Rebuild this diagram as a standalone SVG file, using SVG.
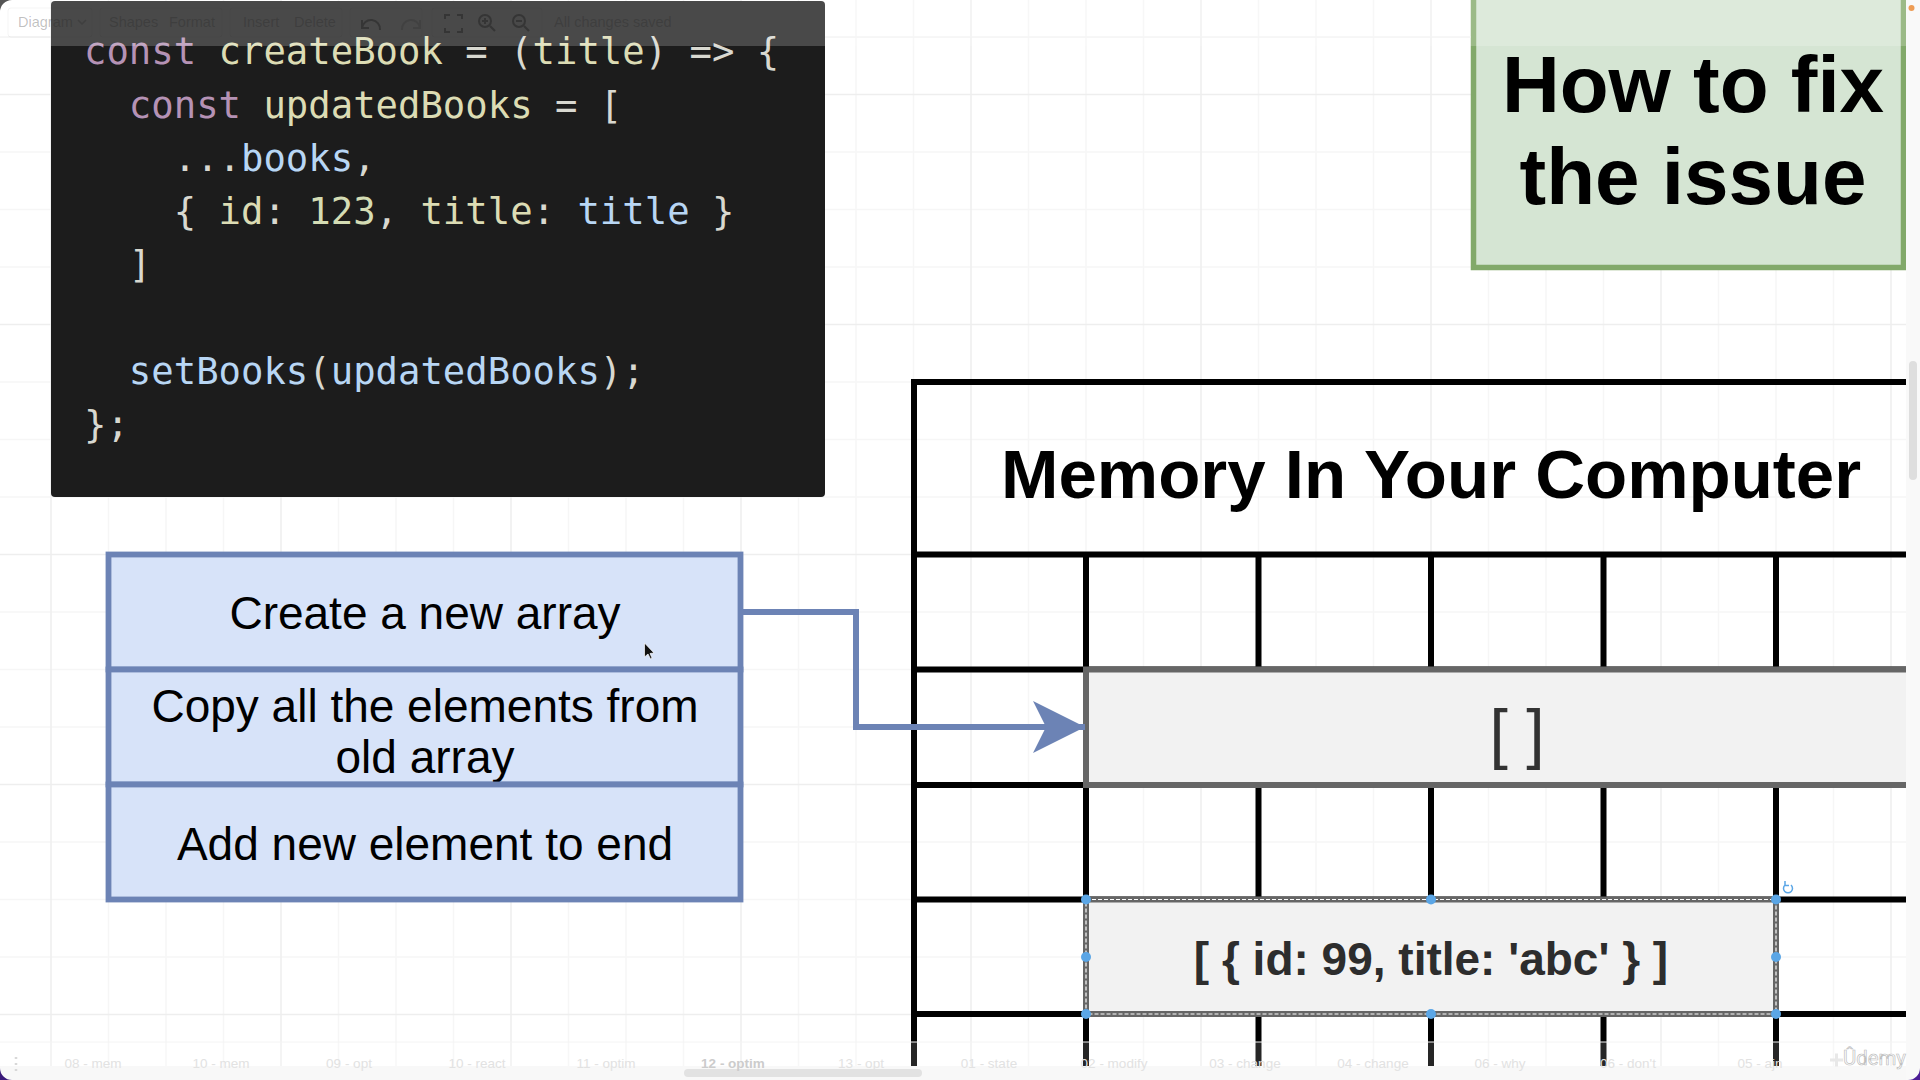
<svg xmlns="http://www.w3.org/2000/svg" width="1920" height="1080" viewBox="0 0 1920 1080">
<style>
.minor{stroke:#f6f6f6;stroke-width:1.5;fill:none}
.major{stroke:#eeeeee;stroke-width:1.5;fill:none}
.code{font-family:"DejaVu Sans Mono","Liberation Mono",monospace;font-size:37.25px;fill:#d8d8d0;white-space:pre}
.k{fill:#b592b5}.f{fill:#dcdcb4}.v{fill:#b8d6f4}.n{fill:#d4dcb4}
.sans{font-family:"Liberation Sans",Arial,sans-serif;text-anchor:middle;fill:#000}
.step{font-size:46px}
.bold{font-weight:700}
.grid{stroke:#000;stroke-width:6;fill:none}
.cell{fill:#f2f2f2;stroke:#666;stroke-width:6}
.stepbox{fill:#d7e3f9;stroke:#6c83b5;stroke-width:5.8}
.handle{fill:#5ba6e6}
.tab{font-family:"Liberation Sans",Arial,sans-serif;font-size:13.5px;fill:#e2e2e2;text-anchor:middle}
.tool{font-family:"Liberation Sans",Arial,sans-serif;font-size:14.5px;fill:#222;fill-opacity:.28}
</style>
<defs>
<marker id="head" markerUnits="userSpaceOnUse" markerWidth="56" markerHeight="56" refX="52" refY="26" orient="auto"><path d="M0 0L52 26L0 52L13 26Z" fill="#6c83b5"/></marker>
</defs>
<rect width="1920" height="1080" fill="#fff"/>
<g id="background-grid">
<path class="minor" d="M108.500 0V1066M166 0V1066M223.500 0V1066M338.500 0V1066M396 0V1066M453.500 0V1066M568.500 0V1066M626 0V1066M683.500 0V1066M798.500 0V1066M856 0V1066M913.500 0V1066M1028.500 0V1066M1086 0V1066M1143.500 0V1066M1258.500 0V1066M1316 0V1066M1373.500 0V1066M1488.500 0V1066M1546 0V1066M1603.500 0V1066M1718.500 0V1066M1776 0V1066M1833.500 0V1066"/>
<path class="minor" d="M0 37H1906M0 152H1906M0 209.500H1906M0 267H1906M0 382H1906M0 439.500H1906M0 497H1906M0 612H1906M0 669.500H1906M0 727H1906M0 842H1906M0 899.500H1906M0 957H1906"/>
<path class="major" d="M51 0V1066M281 0V1066M511 0V1066M741 0V1066M971 0V1066M1201 0V1066M1431 0V1066M1661 0V1066M1891 0V1066M0 94.500H1906M0 324.500H1906M0 554.500H1906M0 784.500H1906M0 1014.500H1906"/>
</g>
<g id="code-panel">
<rect x="51" y="1" width="774" height="496" rx="4" fill="#1c1c1c"/>
<text class="code" x="84" y="64"><tspan class="k">const</tspan> <tspan class="f">createBook</tspan> = (<tspan class="f">title</tspan>) =&gt; {</text>
<text class="code" x="84" y="118">  <tspan class="k">const</tspan> <tspan class="f">updatedBooks</tspan> = [</text>
<text class="code" x="84" y="171">    ...<tspan class="v">books</tspan>,</text>
<text class="code" x="84" y="224">    { <tspan class="f">id</tspan>: <tspan class="n">123</tspan>, <tspan class="f">title</tspan>: <tspan class="v">title</tspan> }</text>
<text class="code" x="84" y="277">  ]</text>
<text class="code" x="84" y="384">  <tspan class="v">setBooks</tspan>(<tspan class="v">updatedBooks</tspan>);</text>
<text class="code" x="84" y="437">};</text>
</g>
<g id="how-to-fix">
<rect x="1473.500" y="-6" width="430" height="273.500" fill="#d5e5d3" stroke="#82a96a" stroke-width="5.500"/>
<text class="sans bold" x="1693" y="112" font-size="80">How to fix</text>
<text class="sans bold" x="1693" y="204" font-size="80">the issue</text>
</g>
<g id="memory">
<text class="sans bold" x="1431" y="498" font-size="69">Memory In Your Computer</text>
<path class="grid" d="M1906 382H914V1066M914 554.500H1906M914 669.500H1906M914 785H1906M914 899.500H1906M914 1014H1906"/>
<path class="grid" d="M1086 554.500V1066M1258.500 554.500V1066M1431 554.500V1066M1603.500 554.500V1066M1776 554.500V1066"/>
</g>
<g id="memory-cell-empty">
<rect class="cell" x="1086" y="669.500" width="840" height="115.500"/>
<text class="sans" x="1517" y="756" font-size="66" style="fill:#333">[ ]</text>
</g>
<g id="memory-cell-object">
<rect class="cell" x="1086" y="899.500" width="690" height="114.500"/>
<text class="sans bold" x="1431" y="975" font-size="46" style="fill:#2d2d2d">[ { id: 99, title: 'abc' } ]</text>
<rect x="1086" y="899.500" width="690" height="114.500" fill="none" stroke="#fff" stroke-width="1.200" stroke-dasharray="4 2"/>
<circle class="handle" cx="1086" cy="899.500" r="5"/><circle class="handle" cx="1431" cy="899.500" r="5"/><circle class="handle" cx="1776" cy="899.500" r="5"/>
<circle class="handle" cx="1086" cy="957" r="5"/><circle class="handle" cx="1776" cy="957" r="5"/>
<circle class="handle" cx="1086" cy="1014" r="5"/><circle class="handle" cx="1431" cy="1014" r="5"/><circle class="handle" cx="1776" cy="1014" r="5"/>
<path d="M1785 885A4.500 4.500 0 1 0 1791 885M1785 881V885.500H1789" fill="none" stroke="#5ba6e6" stroke-width="1.500"/>
</g>
<g id="step-create">
<rect class="stepbox" x="108.500" y="554.500" width="632" height="115"/>
<text class="sans step" x="425" y="629">Create a new array</text>
</g>
<g id="step-copy">
<rect class="stepbox" x="108.500" y="669.500" width="632" height="115"/>
<text class="sans step" x="425" y="722">Copy all the elements from</text>
<text class="sans step" x="425" y="773">old array</text>
</g>
<g id="step-add">
<rect class="stepbox" x="108.500" y="784.500" width="632" height="115"/>
<text class="sans step" x="425" y="860">Add new element to end</text>
</g>
<g id="connectors">
<path d="M741 612H856V727H1085" fill="none" stroke="#6c83b5" stroke-width="6" marker-end="url(#head)"/>
</g>
<g id="cursor"><path d="M644.500 643V657L648 654L650.500 659L652 658L650 653.500L654 653Z" fill="#111" stroke="#fff" stroke-width=".7"/></g>
<g id="app-chrome">
<rect x="0" y="0" width="1906" height="46" fill="#fff" fill-opacity=".2"/>
<path d="M0 37H51M825 37H1471" stroke="#f4f4f4" stroke-width="1" fill="none"/>
<g fill="none" stroke="#222" stroke-opacity=".05"><rect x="8" y="8" width="84" height="29" rx="3"/><rect x="100" y="8" width="122" height="29" rx="3"/><rect x="230" y="8" width="112" height="29" rx="3"/><rect x="350" y="8" width="72" height="29" rx="3"/><rect x="432" y="8" width="110" height="29" rx="3"/></g>
<text class="tool" x="18" y="27">Diagram</text><text class="tool" x="109" y="27">Shapes</text><text class="tool" x="169" y="27">Format</text><text class="tool" x="243" y="27">Insert</text><text class="tool" x="294" y="27">Delete</text><text class="tool" x="554" y="27">All changes saved</text>
<path d="M78 20L82 24L86 20" fill="none" stroke="#222" stroke-opacity=".25" stroke-width="1.500"/>
<g fill="none" stroke="#222" stroke-opacity=".5" stroke-width="2"><path d="M362 28A8 8 0 0 1 380 30M362 20V28H369"/><path stroke-opacity=".2" d="M420 28A8 8 0 0 0 402 30M420 20V28H413"/><path d="M445 19V15H450M457 15H462V19M445 28V32H450M457 32H462V28"/><circle cx="485" cy="21" r="6"/><path d="M490 26L495 31M482 21H488M485 18V24"/><circle cx="519" cy="21" r="6"/><path d="M524 26L529 31M516 21H522"/></g>
<rect x="0" y="1042" width="1906" height="24" fill="#fff" fill-opacity=".15"/>
<path d="M0 1042H1906" stroke="#f4f4f4" stroke-width="1"/>
<rect x="0" y="1066" width="1906" height="14" fill="#f8f8f8"/>
<rect x="1906" y="0" width="14" height="1080" fill="#f9f9f9"/>
<rect x="1909" y="361" width="8" height="119" rx="4" fill="#dedede"/>
<rect x="684" y="1069" width="238" height="8" rx="4" fill="#e2e2e2"/>
<circle cx="1911.500" cy="8" r="3" fill="#ee9c55"/>
<path d="M16 1057v2M16 1063v2M16 1069v2" stroke="#d8d8d8" stroke-width="2.500"/>
<text class="tab" x="93" y="1068">08 - mem</text><text class="tab" x="221" y="1068">10 - mem</text><text class="tab" x="349" y="1068">09 - opt</text><text class="tab" x="477" y="1068">10 - react</text><text class="tab" x="606" y="1068">11 - optim</text><text class="tab" x="733" y="1068" font-weight="700" style="fill:#cccccc">12 - optim</text><text class="tab" x="861" y="1068">13 - opt</text><text class="tab" x="989" y="1068">01 - state</text><text class="tab" x="1114" y="1068">02 - modify</text><text class="tab" x="1245" y="1068">03 - change</text><text class="tab" x="1373" y="1068">04 - change</text><text class="tab" x="1500" y="1068">06 - why</text><text class="tab" x="1628" y="1068">06 - don't</text><text class="tab" x="1760" y="1068">05 - ajn</text>
<path d="M0 0H12A12 12 0 0 0 0 12Z" fill="#555"/>
<path d="M0 1080V1068A12 12 0 0 0 12 1080Z" fill="#3a1a7a"/>
<path d="M1920 1080V1068A12 12 0 0 1 1908 1080Z" fill="#4b1d96"/>
</g>
<g id="watermark">
<path d="M1830 1060H1843M1836.500 1053.500V1066.500" stroke="#e8e8e8" stroke-width="3"/>
<text x="1843" y="1065" font-family="Roboto,'Liberation Sans',sans-serif" font-size="21" textLength="63" lengthAdjust="spacingAndGlyphs" fill="#fff" stroke="#bdbdbd" stroke-width=".7">Ûdemy</text>
</g>
</svg>
